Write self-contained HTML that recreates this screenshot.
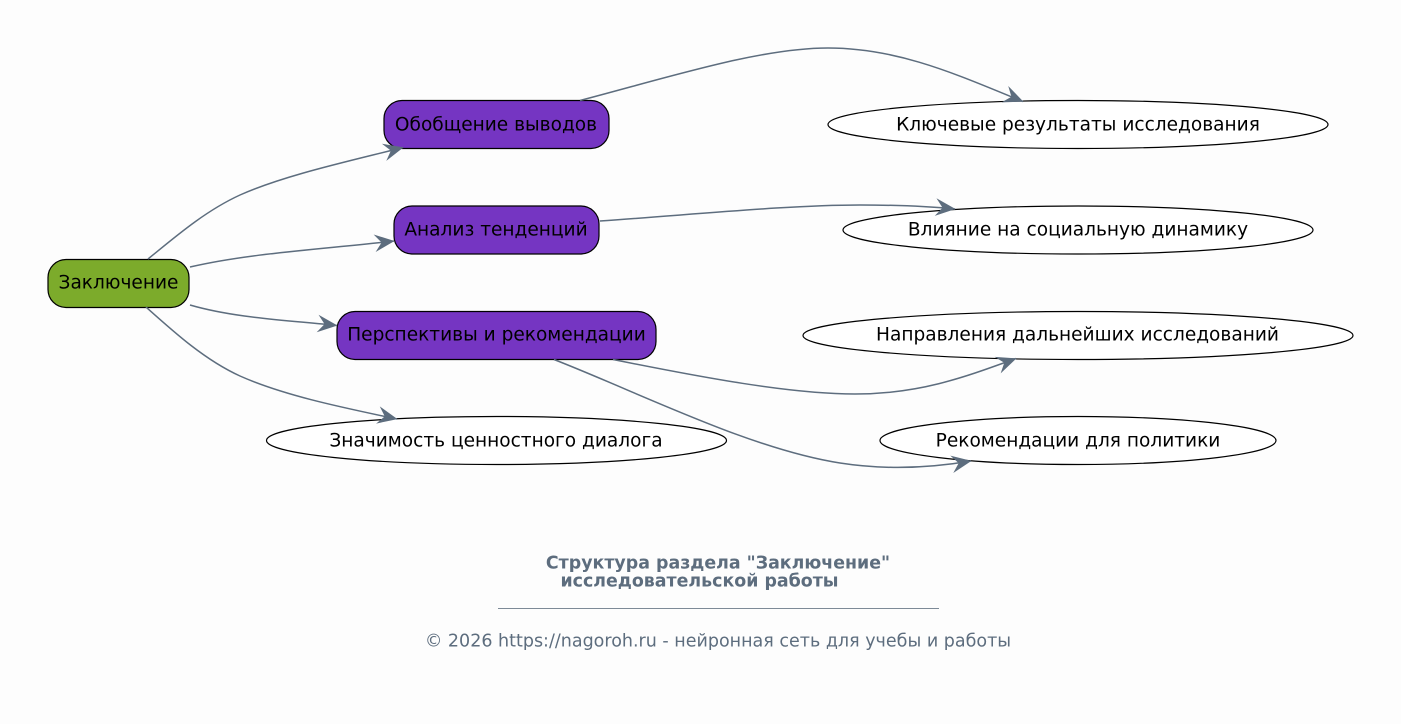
<!DOCTYPE html>
<html><head><meta charset="utf-8"><style>
html,body{margin:0;padding:0;background:#fdfdfd;width:1401px;height:724px;overflow:hidden}
svg{display:block}
text{font-family:"DejaVu Sans",sans-serif;text-anchor:middle}
.n{font-size:18.56px;fill:#000}
.e{fill:none;stroke:#5d6d7e;stroke-width:1.5}
.a{fill:#5d6d7e;stroke:none}
.s{stroke:#000;stroke-width:1.2}
</style></head><body>
<svg width="1401" height="724" viewBox="0 0 1401 724" xmlns="http://www.w3.org/2000/svg">
<defs><marker id="v" markerUnits="userSpaceOnUse" markerWidth="30" markerHeight="24" refX="24" refY="12" orient="auto" overflow="visible"><path class="a" d="M24.500,12 L4.500,3.200 L11.500,12 L4.500,20.800 Z"/></marker></defs>
<rect width="1401" height="724" fill="#fdfdfd"/>
<rect class="s" x="48" y="259.500" width="141" height="48" rx="18" fill="#7cab2b"/>
<rect class="s" x="384" y="100.500" width="225" height="48" rx="18" fill="#7535c2"/>
<rect class="s" x="394" y="206" width="205" height="48" rx="18" fill="#7535c2"/>
<rect class="s" x="337" y="311.500" width="319" height="48" rx="18" fill="#7535c2"/>
<ellipse class="s" cx="496.500" cy="440.500" rx="230" ry="24" fill="#fff"/>
<ellipse class="s" cx="1078" cy="124.500" rx="250" ry="24" fill="#fff"/>
<ellipse class="s" cx="1078" cy="230" rx="235" ry="24" fill="#fff"/>
<ellipse class="s" cx="1078" cy="335.500" rx="275" ry="24" fill="#fff"/>
<ellipse class="s" cx="1078" cy="440.500" rx="198" ry="24" fill="#fff"/>
<path class="e" marker-end="url(#v)" d="M148,259 C175,237 205,211 240,195 C285,175 350,161 403,147.500"/>
<path class="e" marker-end="url(#v)" d="M190,267 C250,253 325,249 394,241"/>
<path class="e" marker-end="url(#v)" d="M190,305 C235,318 285,320 337,325.500"/>
<path class="e" marker-end="url(#v)" d="M146,307 C175,333 205,360 240,376 C285,396 345,408 397,419"/>
<path class="e" marker-end="url(#v)" d="M580,100.500 C670,77 760,48 828,48 C900,48 960,76 1023,101.500"/>
<path class="e" marker-end="url(#v)" d="M600,221 C700,214 790,205 860,205 C895,205 925,206 955,209"/>
<path class="e" marker-end="url(#v)" d="M613,359.500 C700,377 790,394 855,394 C920,394 965,377 1016,358.500"/>
<path class="e" marker-end="url(#v)" d="M554,359.500 C640,393 750,449 840,463 C885,470 930,468 971,461"/>
<text class="n" x="118.500" y="288.500">Заключение</text>
<text class="n" x="496" y="130.500">Обобщение выводов</text>
<text class="n" x="496" y="235.500">Анализ тенденций</text>
<text class="n" x="496.500" y="340.500">Перспективы и рекомендации</text>
<text class="n" x="496" y="446.500">Значимость ценностного диалога</text>
<text class="n" x="1078" y="130.500">Ключевые результаты исследования</text>
<text class="n" x="1078" y="235.500">Влияние на социальную динамику</text>
<text class="n" x="1077.500" y="340.500">Направления дальнейших исследований</text>
<text class="n" x="1078" y="446.500">Рекомендации для политики</text>
<text x="718" y="568.500" font-size="17.4" font-weight="bold" fill="#5d6d7e">Структура раздела "Заключение"</text>
<text x="699.500" y="586.500" font-size="17.4" font-weight="bold" fill="#5d6d7e">исследовательской работы</text>
<rect x="498" y="608" width="441" height="1" fill="#7d8a97"/>
<text x="718" y="646.500" font-size="17.5" fill="#5d6d7e">© 2026 https://nagoroh.ru - нейронная сеть для учебы и работы</text>
</svg>
</body></html>
